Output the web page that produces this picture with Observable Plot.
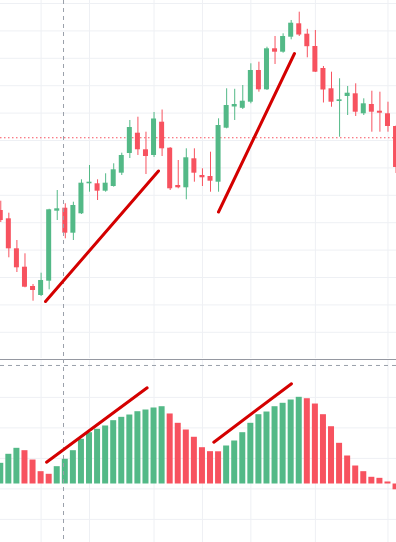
<!DOCTYPE html>
<html>
<head>
<meta charset="utf-8">
<script src="https://cdn.jsdelivr.net/npm/d3@7"></script>
<script src="https://cdn.jsdelivr.net/npm/@observablehq/plot@0.6"></script>
<style>
  html, body { margin: 0; padding: 0; background: #ffffff; }
  #chart svg { display: block; }
</style>
</head>
<body>
<div id="chart"></div>
<script>
// ---- data ----
const open  = [74.45,71.42,60.47,53.76,46.72,43.43,48.65,74.20,75.29,66.17,
               73.25,84.20,84.20,81.50,83.21,88.07,95.26,102.66,96.61,94.53,
               106.68,97.19,83.58,82.74,93.32,87.23,86.86,84.78,104.49,112.23,
               111.75,113.98,125.55,118.50,133.47,132.23,137.70,142.59,138.80,134.31,
               126.28,118.87,114.23,116.06,117.04,109.75,113.14,110.69,109.75,105.11];
const high  = [77.85,73.47,63.50,58.65,47.45,51.57,74.90,81.75,76.90,77.48,
               85.66,90.88,85.66,87.85,91.50,95.37,107.30,108.50,103.03,110.22,
               111.13,97.40,92.70,96.97,96.97,89.67,95.73,107.92,118.87,118.69,
               120.07,127.99,128.58,134.05,137.96,138.94,143.80,146.83,140.58,140.15,
               127.01,124.93,122.52,119.71,120.69,115.22,117.99,117.63,113.98,105.30];
const low   = [70.07,57.19,51.82,46.24,41.35,43.07,45.51,70.80,64.12,63.50,
               72.99,81.13,78.10,81.13,82.96,87.23,93.43,94.53,87.59,93.80,
               94.16,81.75,82.37,78.36,84.78,83.21,81.13,81.13,104.27,107.30,
               111.31,113.39,117.63,118.25,127.74,131.86,136.75,137.96,130.18,124.82,
               113.69,112.15,101.20,109.12,108.76,109.12,103.03,103.03,103.03,87.96];
const close = [70.80,60.47,53.54,46.46,45.26,48.91,74.71,75.07,66.17,76.28,
               84.42,84.78,81.50,84.42,89.31,94.53,104.74,96.61,94.16,107.85,
               96.97,82.37,82.74,93.69,88.07,86.39,85.15,105.47,112.77,113.14,
               114.34,125.55,118.50,133.47,132.23,137.96,142.81,138.50,134.23,124.93,
               118.43,113.98,114.85,117.26,110.33,113.39,110.33,109.96,105.11,90.15];
const macdHist = [0.339,0.487,0.585,0.546,0.393,0.202,0.159,0.284,0.405,0.546,
                  0.733,0.841,0.897,0.951,1.038,1.093,1.131,1.185,1.213,1.246,
                  1.267,1.148,0.995,0.885,0.766,0.595,0.530,0.528,0.623,0.705,
                  0.841,0.995,1.136,1.180,1.267,1.323,1.377,1.421,1.398,1.311,
                  1.136,0.939,0.667,0.459,0.295,0.202,0.110,0.093,0.033,-0.095];
const timeGridIdx = [5, 11, 19, 25, 31, 39, 48];
const priceTicks = [30, 40, 50, 60, 70, 80, 90, 100, 110, 120, 130, 140, 150];
const histTicks = [1.42, 0.92, 0.42, -0.08, -0.58];
const lastPrice = 101.0;
const crosshairIdx = 7.78;
const crosshairHist = 1.943;
const priceTrendIdx = [5.545, 19.552, 26.99, 36.41];
const priceTrendVal = [41.24, 88.87, 73.9, 131.75];
const histTrendIdx = [5.669, 18.15, 26.41, 36.04];
const histTrendVal = [0.357, 1.577, 0.685, 1.643];

// ---- style ----
const UP = "#53b987", DOWN = "#f7525f", GRID = "#eef0f4", CROSS = "#9aa0aa", TREND = "#d40000";
const W = 396;
const xDomain = [-0.0335, 49.056];

const candles = open.map((o, i) => ({i, o, h: high[i], l: low[i], c: close[i], col: close[i] >= o ? UP : DOWN}));
const bars = macdHist.map((v, i) => ({i, v, col: (i === 0 || v >= macdHist[i - 1]) ? UP : DOWN}));
const pTrend = priceTrendIdx.map((i, k) => ({i, p: priceTrendVal[k], id: Math.floor(k / 2)}));
const hTrend = histTrendIdx.map((i, k) => ({i, v: histTrendVal[k], id: Math.floor(k / 2)}));

const histDomain = [-0.959, 2.041];

const pricePane = Plot.plot({
  width: W, height: 358, margin: 0,
  x: {domain: xDomain, axis: null},
  y: {domain: [20.438, 151.095], axis: null},
  color: {type: "identity"},
  marks: [
    Plot.ruleX(timeGridIdx, {stroke: GRID}),
    Plot.ruleY(priceTicks, {stroke: GRID}),
    Plot.ruleY([lastPrice], {stroke: DOWN, strokeDasharray: "1.5,2.5"}),
    Plot.ruleX(candles, {x: "i", y1: "l", y2: "h", stroke: "col"}),
    Plot.rect(candles, {x1: d => d.i - 0.31, x2: d => d.i + 0.31, y1: "o", y2: "c", fill: "col"}),
    Plot.ruleX([crosshairIdx], {stroke: CROSS, strokeDasharray: "4,4"}),
    Plot.line(pTrend, {x: "i", y: "p", z: "id", stroke: TREND, strokeWidth: 3, strokeLinecap: "round"})
  ]
});

const macdPane = Plot.plot({
  width: W, height: 184, marginTop: 1, marginRight: 0, marginBottom: 0, marginLeft: 0,
  x: {domain: xDomain, axis: null},
  y: {domain: histDomain, axis: null},
  color: {type: "identity"},
  marks: [
    Plot.ruleX(timeGridIdx, {stroke: GRID}),
    Plot.ruleY(histTicks, {stroke: GRID}),
    Plot.rect(bars, {x1: d => d.i - 0.372, x2: d => d.i + 0.372, y1: 0, y2: "v", fill: "col"}),
    Plot.ruleY([histDomain[1]], {stroke: "#9598a1"}),
    Plot.ruleY([crosshairHist], {stroke: CROSS, strokeDasharray: "4,4"}),
    Plot.ruleX([crosshairIdx], {stroke: CROSS, strokeDasharray: "4,4"}),
    Plot.line(hTrend, {x: "i", y: "v", z: "id", stroke: TREND, strokeWidth: 3, strokeLinecap: "round"})
  ]
});

const el = document.getElementById("chart");
el.appendChild(pricePane);
el.appendChild(macdPane);
</script>
</body>
</html>
